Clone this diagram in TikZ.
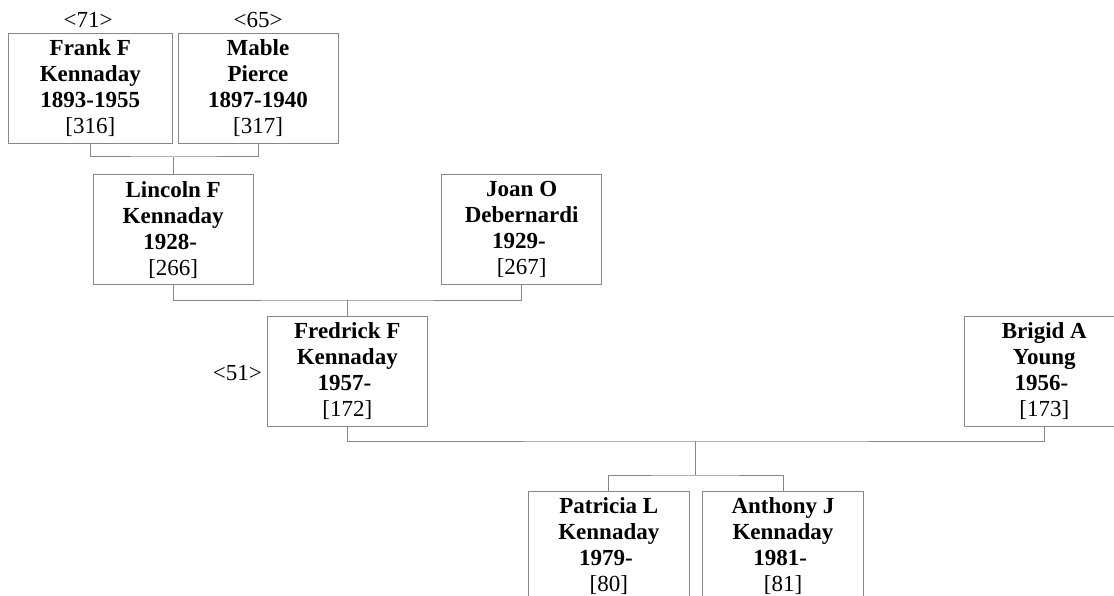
\documentclass[tikz,border=0pt]{standalone}
\usepackage{fontspec}
\setmainfont{Liberation Serif}
\usetikzlibrary{calc}
\definecolor{linegray}{RGB}{136,136,136}
\newcommand{\yr}[1]{\textbf{#1}\kern5.75pt}
\begin{document}
\begin{tikzpicture}[x=1pt,y=-1pt,
  person/.style={draw=linegray, line width=1pt, rectangle, minimum width=160pt,
    minimum height=110pt, inner sep=0pt, align=center,
    font=\fontsize{23}{26}\selectfont, anchor=north},
  conn/.style={draw=linegray, line width=1pt},
  tag/.style={font=\fontsize{23}{26}\selectfont, inner sep=0pt}]
\useasboundingbox (0,0) rectangle (1114,596);
\clip (0,0) rectangle (1114,596);

% generation 1
\node[person, minimum width=164.6pt] (frank) at (90.3,33)
  {\textbf{Frank F}\\\textbf{Kennaday}\\\textbf{1893-1955}\\{}[316]};
\node[person] (mable) at (258,33)
  {\textbf{Mable}\\\textbf{Pierce}\\\textbf{1897-1940}\\{}[317]};
\node[tag, anchor=base] (t71) at (88,28) {<71>};
\node[tag, anchor=base] (t65) at (258,28) {<65>};

% generation 2
\node[person] (lincoln) at (173.2,174.3)
  {\textbf{Lincoln F}\\\textbf{Kennaday}\\\yr{1928-}\\{}[266]};
\node[person] (joan) at (521.7,174.3)
  {\textbf{Joan O}\\\textbf{Debernardi}\\\yr{1929-}\\{}[267]};

% generation 3
\node[person] (fredrick) at (347.3,315.7)
  {\textbf{Fredrick F}\\\textbf{Kennaday}\\\yr{1957-}\\{}[172]};
\node[person] (brigid) at (1044.3,315.7)
  {\textbf{Brigid A}\\\textbf{Young}\\\yr{1956-}\\{}[173]};
\node[tag, anchor=base east] (t51) at (262,380) {<51>};

% generation 4
\node[person, minimum width=161pt] (patricia) at (608.8,491)
  {\textbf{Patricia L}\\\textbf{Kennaday}\\\yr{1979-}\\{}[80]};
\node[person, minimum width=160.6pt] (anthony) at (783,491)
  {\textbf{Anthony J}\\\textbf{Kennaday}\\\yr{1981-}\\{}[81]};

% connectors
\coordinate (u1) at (173,157);
\draw[conn] (frank.south) |- (u1) -| (mable.south);
\draw[conn] (lincoln.north) -- (lincoln.north |- u1);

\coordinate (u2) at (347.3,300);
\draw[conn] (lincoln.south) |- (u2) -| (joan.south);
\draw[conn] (fredrick.north) -- (fredrick.north |- u2);

\coordinate (u3) at (695.7,441);
\coordinate (k1) at (695.7,475);
\draw[conn] (fredrick.south) |- (u3) -| (brigid.south);
\draw[conn] (u3) -- (k1);
\draw[conn] (patricia.north) |- (k1) -| (anthony.north);
\end{tikzpicture}
\end{document}
